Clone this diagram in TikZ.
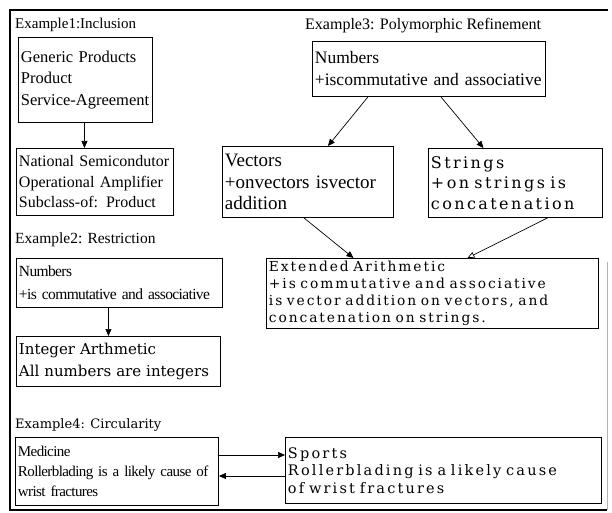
\documentclass[tikz,border=0pt]{standalone}
\usepackage{fontspec}
\setmainfont{Liberation Serif}
\newfontfamily\narrowserif[LetterSpace=-4]{Liberation Serif}
\newfontfamily\wideserif{DejaVu Serif}
\newfontfamily\spacedserif[LetterSpace=15]{DejaVu Serif}
\newfontfamily\tightserif[LetterSpace=14]{DejaVu Serif}
\usetikzlibrary{arrows.meta}

\newcommand\fsize[2]{\fontsize{#1}{#2}\selectfont}

\tikzset{
  box/.style={draw, line width=0.9pt, anchor=north west, inner sep=2.5pt, align=left},
  flow/.style={-{Triangle[width=6pt,length=7pt]}, line width=0.7pt},
  caption/.style={anchor=west, inner sep=0pt},
}

\begin{document}
\begin{tikzpicture}[x=1pt,y=-1pt]
\useasboundingbox (0,0) rectangle (612,513);
% frame
\draw[line width=2.5pt] (9,10) -- (608,10);
\draw[line width=1.5pt] (10,10) -- (10,510) -- (607,510);
\draw[gray!60, line width=0.6pt] (607,262) -- (607,510);

% Example 1
\node[caption, font=\fsize{15}{18}] (t1) at (15,25) {Example1:Inclusion};
\node[box, text width=129pt, minimum height=85pt, font=\fsize{16.5}{21.5}] (gen) at (18,37)
  {Generic Products\\Product\\Service-Agreement\\[4pt]};
\node[box, text width=152pt, minimum height=67pt, font=\fsize{16}{20.5}] (nat) at (16,148)
  {National Semicondutor\\Operational Amplifier\\Subclass-of: Product};
\draw[flow] ([xshift=-1pt]gen.south) -- ([xshift=-1pt]gen.south |- nat.north);

% Example 2
\node[caption, font=\fsize{15.5}{18}] (t2) at (15,240) {Example2: Restriction};
\node[box, text width=201pt, minimum height=49pt, font=\narrowserif\fsize{15.5}{23}] (num2) at (16,258)
  {Numbers\\+is commutative and associative};
\node[box, text width=199pt, minimum height=50pt, font=\wideserif\fsize{15}{22}] (intg) at (16,336)
  {Integer Arthmetic\\All numbers are integers};
\draw[flow] ([xshift=-11pt]num2.south) -- ([xshift=-11pt]num2.south |- intg.north);

% Example 3
\node[caption, font=\fsize{16}{18}] (t3) at (305,26) {Example3: Polymorphic Refinement};
\node[box, text width=228pt, minimum height=55pt, font=\fsize{17.5}{22}] (num3) at (312,41)
  {Numbers\\+iscommutative and associative};
\node[box, text width=166pt, minimum height=71pt, font=\fsize{19}{21.5}] (vec) at (222,146)
  {Vectors\\+onvectors isvector\\addition};
\node[box, text width=169pt, minimum height=69pt, font=\spacedserif\fsize{16}{20.5}] (str) at (428,148)
  {Strings\\+on strings is\\concatenation};
\node[box, text width=327pt, minimum height=68pt, font=\tightserif\fsize{13.8}{17}] (ext) at (266,258)
  {Extended Arithmetic\\+is commutative and associative\\is vector addition on vectors, and\\ concatenation on strings.};
\draw[flow] ([xshift=-61pt]num3.south) -- ([xshift=20pt]vec.north);
\draw[flow] ([xshift=12pt]num3.south) -- ([xshift=-32pt]str.north);
\draw[flow] ([xshift=-4pt]vec.south) -- ([xshift=-79pt]ext.north);
\draw[-{Triangle[open,width=6pt,length=7pt]}, line width=0.7pt] ([xshift=32pt]str.south) -- ([xshift=35pt]ext.north);

% Example 4
\node[caption, font=\wideserif\fsize{13}{16}] (t4) at (15,425) {Example4: Circularity};
\node[box, text width=198pt, minimum height=68pt, font=\narrowserif\fsize{15}{20}] (med) at (15,437)
  {Medicine\\Rollerblading is a likely cause of\\wrist fractures};
\node[box, text width=311pt, minimum height=66pt, font=\spacedserif\fsize{14.5}{17.5}] (spo) at (285,437)
  {Sports\\Rollerblading is a likely cause\\of wrist fractures};
\draw[flow] (med.east |- 0,455) -- (spo.west |- 0,455);
\draw[flow] (spo.west |- 0,476) -- (med.east |- 0,476);
\end{tikzpicture}
\end{document}
